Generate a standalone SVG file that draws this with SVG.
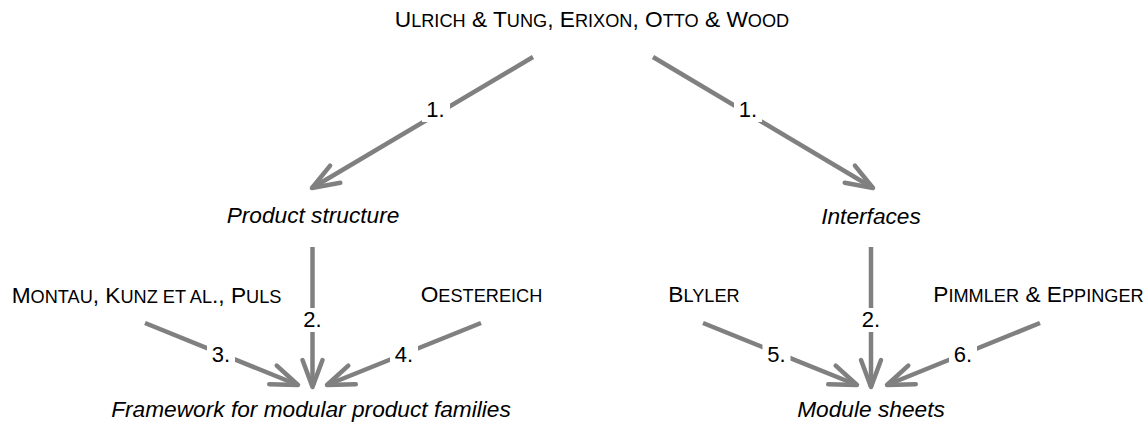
<svg xmlns="http://www.w3.org/2000/svg" width="1148" height="426" viewBox="0 0 1148 426">
<style>
text{font-family:"Liberation Sans",Arial,Helvetica,sans-serif;font-size:22.7px;fill:#000;text-anchor:middle}
.it{font-style:italic}
.sc{font-size:80%}
.lbl{font-size:22px}
.ln{stroke:#808080;stroke-width:4.5;fill:none;marker-end:url(#ah)}
.bg{fill:#fff}
</style>
<defs>
<marker id="ah" markerUnits="userSpaceOnUse" viewBox="-34 -16 40 32" refX="0" refY="0" markerWidth="40" markerHeight="32" orient="auto">
<path d="M-27,-10 L0,0 L-27,10" fill="none" stroke="#808080" stroke-width="4.5" stroke-linecap="round" stroke-linejoin="round"/>
</marker>
</defs>
<rect width="1148" height="426" fill="#fff"/>
<g id="connectors">
<path class="ln" d="M533,57 L312,188"/>
<path class="ln" d="M653,57 L873,188"/>
<path class="ln" d="M312.5,247 L312.5,387"/>
<path class="ln" d="M871,247 L871,387"/>
<path class="ln" d="M145,323 L298,385"/>
<path class="ln" d="M481,323 L327,385"/>
<path class="ln" d="M703,323 L857,385"/>
<path class="ln" d="M1040,323 L887,385"/>
<g id="labels">
<rect class="bg" x="422" y="98" width="28" height="24"/><text class="lbl" x="435.5" y="117">1.</text>
<rect class="bg" x="734" y="98" width="28" height="24"/><text class="lbl" x="748" y="117">1.</text>
<rect class="bg" x="299" y="308" width="27" height="24"/><text class="lbl" x="312.5" y="327">2.</text>
<rect class="bg" x="857.5" y="308" width="27" height="24"/><text class="lbl" x="871" y="327">2.</text>
<rect class="bg" x="207" y="343" width="28" height="24"/><text class="lbl" x="221" y="362">3.</text>
<rect class="bg" x="390" y="343" width="28" height="24"/><text class="lbl" x="404" y="362">4.</text>
<rect class="bg" x="762.5" y="343" width="28" height="24"/><text class="lbl" x="776.5" y="362">5.</text>
<rect class="bg" x="949" y="343" width="28" height="24"/><text class="lbl" x="963" y="362">6.</text>
</g>
</g>
<g id="n-sources"><text x="592" y="27">U<tspan class="sc">LRICH</tspan> &amp; T<tspan class="sc">UNG</tspan>, E<tspan class="sc">RIXON</tspan>, O<tspan class="sc">TTO</tspan> &amp; W<tspan class="sc">OOD</tspan></text></g>
<g id="n-product"><text class="it" x="313" y="223">Product structure</text></g>
<g id="n-interfaces"><text class="it" x="871" y="224">Interfaces</text></g>
<g id="n-montau"><text x="146.5" y="303">M<tspan class="sc">ONTAU</tspan>, K<tspan class="sc">UNZ ET AL</tspan>., P<tspan class="sc">ULS</tspan></text></g>
<g id="n-oestereich"><text x="481.5" y="302">O<tspan class="sc">ESTEREICH</tspan></text></g>
<g id="n-blyler"><text x="704" y="302">B<tspan class="sc">LYLER</tspan></text></g>
<g id="n-pimmler"><text x="1038.5" y="302">P<tspan class="sc">IMMLER</tspan> &amp; E<tspan class="sc">PPINGER</tspan></text></g>
<g id="n-framework"><text class="it" x="311" y="417">Framework for modular product families</text></g>
<g id="n-modules"><text class="it" x="871" y="417">Module sheets</text></g>
</svg>
